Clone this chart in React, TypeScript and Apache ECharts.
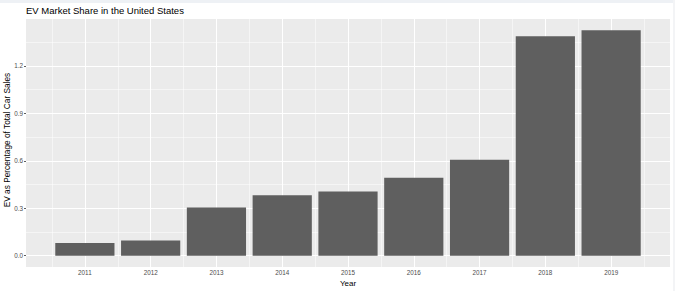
import React, { useEffect, useRef } from "react";
import * as echarts from "echarts";

const years = [2011, 2012, 2013, 2014, 2015, 2016, 2017, 2018, 2019];
const evShare = [0.08, 0.097, 0.305, 0.383, 0.406, 0.493, 0.606, 1.388, 1.425];

const yTicks = [0, 0.3, 0.6, 0.9, 1.2];
const yMinorTicks = [0.15, 0.45, 0.75, 1.05, 1.35];
const xMinorTicks = [2010.5, 2011.5, 2012.5, 2013.5, 2014.5, 2015.5, 2016.5, 2017.5, 2018.5, 2019.5];

const titleText = "EV Market Share in the United States";
const xTitle = "Year";
const yTitle = "EV as Percentage of Total Car Sales";

const FONT = "'Liberation Sans', Arial, Helvetica, sans-serif";
const BAR_HALF = 0.45;

export default function App() {
  const ref = useRef<HTMLDivElement>(null);

  useEffect(() => {
    if (!ref.current) return;
    const chart = echarts.init(ref.current, null, { renderer: "svg" });

    const dataPairs = years.map((y, i) => [y, evShare[i]]);
    const maxV = Math.max(...evShare);
    const pad = maxV * 0.05;
    const xPad = (years[years.length - 1] - years[0] + 2 * BAR_HALF) * 0.05 + BAR_HALF;

    const gridLine = (w: number) => ({ color: "#ffffff", width: w, type: "solid" as const, opacity: 1 });

    chart.setOption({
      animation: false,
      backgroundColor: "#ffffff",
      textStyle: { fontFamily: FONT },
      title: {
        text: titleText,
        left: 21,
        top: 0,
        textStyle: { fontFamily: FONT, fontSize: 9.5, fontWeight: "normal", color: "#000000" },
      },
      graphic: [
        {
          type: "text",
          x: 7,
          y: 140,
          rotation: Math.PI / 2,
          silent: true,
          style: {
            text: yTitle,
            fontFamily: FONT,
            fontSize: 8.3,
            fill: "#000000",
            align: "center",
            verticalAlign: "middle",
          },
        },
      ],
      grid: {
        left: 26,
        right: 5,
        top: 19,
        bottom: 24,
        show: true,
        containLabel: false,
        outerBoundsMode: "none",
        backgroundColor: "#EBEBEB",
        borderWidth: 0,
      },
      xAxis: {
        type: "value",
        min: years[0] - xPad,
        max: years[years.length - 1] + xPad,
        scale: true,
        name: xTitle,
        nameLocation: "middle",
        nameGap: 10,
        nameTextStyle: { fontFamily: FONT, fontSize: 8, color: "#000000" },
        axisLine: { show: false },
        splitLine: { show: false },
        axisTick: {
          show: true,
          customValues: years,
          length: 2,
          lineStyle: { color: "#333333", width: 0.8 },
        },
        axisLabel: {
          customValues: years,
          margin: 2,
          fontSize: 6.3,
          color: "#4D4D4D",
          fontFamily: FONT,
          formatter: (v: number) => String(Math.round(v)),
        },
      },
      yAxis: {
        type: "value",
        min: -pad,
        max: maxV + pad,
        axisLine: { show: false },
        splitLine: { show: false },
        axisTick: {
          show: true,
          customValues: yTicks,
          length: 2,
          lineStyle: { color: "#333333", width: 0.8 },
        },
        axisLabel: {
          customValues: yTicks,
          margin: 3,
          fontSize: 6.3,
          color: "#4D4D4D",
          fontFamily: FONT,
          formatter: (v: number) => v.toFixed(1),
        },
      },
      series: [
        {
          type: "custom",
          data: dataPairs,
          z: 3,
          silent: true,
          encode: { x: 0, y: 1 },
          renderItem: (params: any, api: any) => {
            const x = api.value(0);
            const v = api.value(1);
            const tl = api.coord([x - BAR_HALF, v]);
            const br = api.coord([x + BAR_HALF, 0]);
            return {
              type: "rect",
              shape: { x: tl[0], y: tl[1], width: br[0] - tl[0], height: br[1] - tl[1] },
              style: { fill: "#5F5F5F" },
            };
          },
          markLine: {
            silent: true,
            z: 1,
            symbol: ["none", "none"],
            label: { show: false },
            emphasis: { disabled: true },
            animation: false,
            data: [
              ...yMinorTicks.map((v) => ({ yAxis: v, lineStyle: gridLine(0.5) })),
              ...xMinorTicks.map((v) => ({ xAxis: v, lineStyle: gridLine(0.5) })),
              ...yTicks.map((v) => ({ yAxis: v, lineStyle: gridLine(1) })),
              ...years.map((v) => ({ xAxis: v, lineStyle: gridLine(1) })),
            ],
          },
        },
      ],
    });

    return () => chart.dispose();
  }, []);

  return (
    <div style={{ position: "fixed", left: 0, top: 0, width: 675, height: 291, background: "#ffffff" }}>
      <div ref={ref} style={{ position: "absolute", left: 0, top: 0, width: 675, height: 291 }} />
      <div style={{ position: "absolute", left: 0, top: 0, width: 675, height: 3, background: "#EEF1F5" }} />
      <div style={{ position: "absolute", right: 0, top: 0, width: 2, height: 291, background: "#F3F4F6" }} />
    </div>
  );
}
